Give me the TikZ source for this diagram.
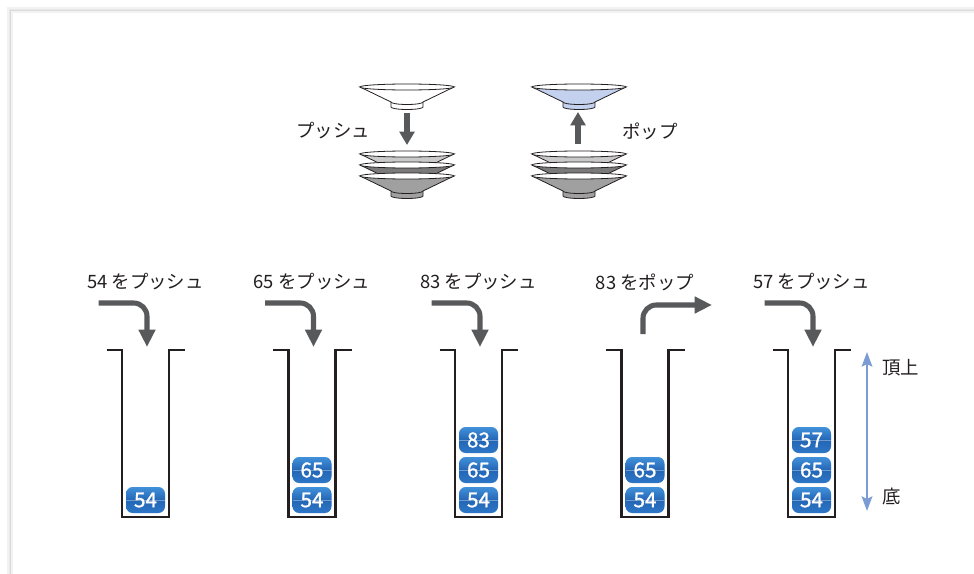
\documentclass[tikz,border=0pt]{standalone}
\usepackage{fontspec}
\setmainfont{Noto Sans CJK JP}
\newfontfamily\digitfont{Noto Sans CJK JP}[FakeBold=1.2]
\usetikzlibrary{arrows.meta}

\definecolor{inkdark}{HTML}{231F20}
\definecolor{arrowgray}{HTML}{58595B}
\definecolor{boxtop}{HTML}{4191DA}
\definecolor{boxmid}{HTML}{2466B6}
\definecolor{boxbot}{HTML}{2E76C6}
\definecolor{rangeblue}{HTML}{7B9BD5}
\definecolor{dishlight}{HTML}{C9C9C9}
\definecolor{dishdark}{HTML}{7A7A7A}
\definecolor{dishmid}{HTML}{A0A0A0}
\definecolor{dishblue}{HTML}{C3D1EE}

% one dish: #1 centre x, #2 rim y, #3 cone fill, #4 rim fill, #5 foot fill
\newcommand\mydish[5]{%
  \filldraw[dishline, fill=#5] (#1-16,#2+15) -- (#1-16,#2+20)
    arc[start angle=180, end angle=0, x radius=16, y radius=2.5] -- (#1+16,#2+15) -- cycle;
  \filldraw[dishline, fill=#3] (#1-47,#2) -- (#1-16,#2+15)
    arc[start angle=180, end angle=0, x radius=16, y radius=2.5] -- (#1+47,#2) -- cycle;
  \filldraw[dishline, fill=#4] (#1,#2) ellipse[x radius=47, y radius=3];
}

% one tube: #1 centre x
\newcommand\mytube[1]{%
  \draw[tube] (#1-39,350) -- (#1-23.5,350) -- (#1-23.5,517) -- (#1+23.5,517)
    -- (#1+23.5,350) -- (#1+39.5,350);
}

\begin{document}
\begin{tikzpicture}[x=0.75pt, y=-0.75pt,
  dishline/.style={draw=inkdark, line width=0.6pt},
  tube/.style={draw=inkdark, line width=1.6pt, line join=miter},
  lbl/.style={font=\fontsize{13.8}{16}\selectfont, text=inkdark, inner sep=0pt},
  numbox/.style={rounded corners=5pt, minimum width=29.25pt, minimum height=19.5pt,
    inner sep=0pt, top color=boxtop, bottom color=boxbot, middle color=boxmid,
    text=white, font=\digitfont\fontsize{15.5}{16}\selectfont,
    path picture={\draw[white, opacity=0.35, line width=0.7pt]
      (path picture bounding box.west) -- (path picture bounding box.east);}},
  bigarrow/.style={draw=arrowgray, line width=3.8pt,
    -{Triangle[width=11pt, length=10pt]}},
  flow/.style={draw=arrowgray, line width=3.8pt, rounded corners=10pt,
    -{Triangle[width=12pt, length=13pt]}},
  spanarrow/.style={draw=rangeblue, line width=1.5pt,
    {Stealth[width=8pt, length=11pt, inset=2pt]}-{Stealth[width=8pt, length=11pt, inset=2pt]}}
]
\useasboundingbox (0,0) rectangle (974,574);
\fill[white] (0,0) rectangle (974,574);

% panel edge shadow
\draw[black!5, line width=4pt] (10,574) -- (10,10) -- (974,10);
\draw[black!9, line width=2pt] (10,574) -- (10,10) -- (974,10);
\draw[black!14, line width=0.6pt] (10.5,574) -- (10.5,10.5) -- (974,10.5);

% ---- push: dish going onto the stack
\mydish{407}{87}{white}{white}{white}
\mydish{407}{154}{dishlight}{white}{dishlight}
\mydish{407}{165}{dishdark}{white}{dishdark}
\mydish{407}{176}{dishmid}{white}{dishmid}
\coordinate (pushfrom) at (407,113);
\coordinate (pushto) at (407,145);
\draw[bigarrow] (pushfrom) -- (pushto);
\node[lbl] (pushlbl) at (333,131) {プッシュ};

% ---- pop: dish coming off the stack
\mydish{579}{87}{dishblue}{white}{dishblue}
\mydish{579}{154}{dishlight}{white}{dishlight}
\mydish{579}{165}{dishdark}{white}{dishdark}
\mydish{579}{176}{dishmid}{white}{dishmid}
\coordinate (popfrom) at (578,144);
\coordinate (popto) at (578,112);
\draw[bigarrow] (popfrom) -- (popto);
\node[lbl] (poplbl) at (650,131) {ポップ};

% ---- five snapshots of the stack
\foreach \cx in {145.5,312,478.5,645,811.5} {\mytube{\cx}}

\node[lbl] (op1) at (145.5,282) {54 をプッシュ};
\node[lbl] (op2) at (312,282) {65 をプッシュ};
\node[lbl] (op3) at (478.5,282) {83 をプッシュ};
\node[lbl] (op4) at (645,282) {83 をポップ};
\node[lbl] (op5) at (811.5,282) {57 をプッシュ};

\coordinate (in1s) at (98.5,303);  \coordinate (in1t) at (147,347);
\coordinate (in2s) at (265,303);   \coordinate (in2t) at (313.5,347);
\coordinate (in3s) at (431.5,303); \coordinate (in3t) at (480,347);
\coordinate (out4s) at (643,334);  \coordinate (out4t) at (712,305);
\coordinate (in5s) at (764.5,303); \coordinate (in5t) at (813,347);
\draw[flow] (in1s) -| (in1t);
\draw[flow] (in2s) -| (in2t);
\draw[flow] (in3s) -| (in3t);
\draw[flow] (out4s) |- (out4t);
\draw[flow] (in5s) -| (in5t);

% stack contents
\node[numbox] (c1a) at (145.5,500) {54};

\node[numbox] (c2a) at (312,500) {54};
\node[numbox] (c2b) at (312,470) {65};

\node[numbox] (c3a) at (478.5,500) {54};
\node[numbox] (c3b) at (478.5,470) {65};
\node[numbox] (c3c) at (478.5,440) {83};

\node[numbox] (c4a) at (645,500) {54};
\node[numbox] (c4b) at (645,470) {65};

\node[numbox] (c5a) at (811.5,500) {54};
\node[numbox] (c5b) at (811.5,470) {65};
\node[numbox] (c5c) at (811.5,440) {57};

% top / bottom marker
\coordinate (rtop) at (867,352);
\coordinate (rbot) at (867,511);
\draw[spanarrow] (rtop) -- (rbot);
\node[lbl, anchor=west] (toplbl) at (882,368) {頂上};
\node[lbl, anchor=west] (botlbl) at (882,497) {底};
\end{tikzpicture}
\end{document}
